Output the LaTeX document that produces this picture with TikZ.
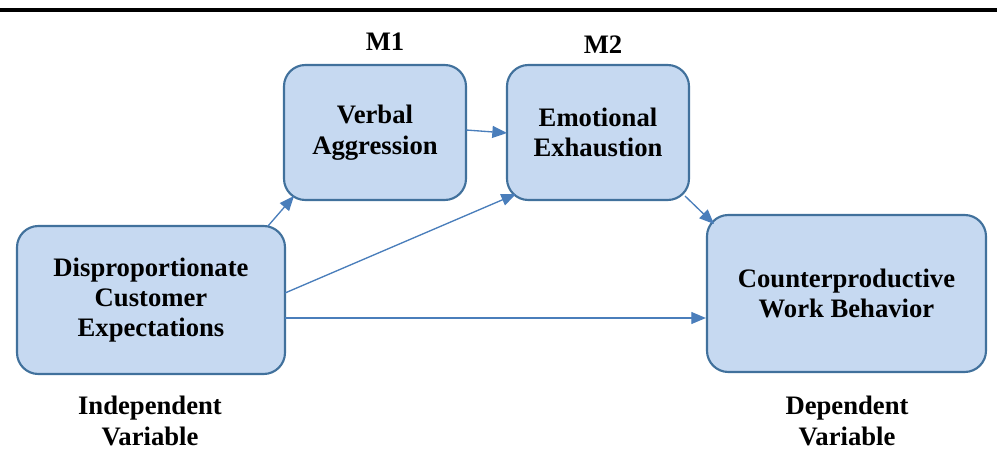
\documentclass[tikz,border=0pt]{standalone}
\usepackage{fontspec}
\setmainfont{Liberation Serif}
\usetikzlibrary{arrows.meta}

\definecolor{boxfill}{HTML}{C6D9F1}
\definecolor{boxline}{HTML}{41719C}
\definecolor{arrowline}{HTML}{4A7EBB}

\tikzset{
  varbox/.style={draw=boxline, fill=boxfill, line width=1.6pt, rounded corners=16pt,
    align=center, font=\fontsize{20}{22.8}\selectfont\bfseries, inner sep=0pt},
  lab/.style={align=center, font=\fontsize{20}{22.8}\selectfont\bfseries},
  link/.style={draw=arrowline, line width=1pt, -{Triangle[length=11pt,width=9pt]}}
}

\begin{document}
\begin{tikzpicture}[x=0.75pt,y=-0.75pt]

    \useasboundingbox (0,0) rectangle (997,468);

    % Linea superiore
    \draw[line width=2.4pt] (0,10) -- (997,10);

    % Variabili
    \node[varbox, minimum width=182*0.75pt, minimum height=135*0.75pt] (verbal) at (375,132.5) {Verbal\\Aggression};
    \node[varbox, minimum width=182*0.75pt, minimum height=135*0.75pt] (emot) at (598,132.5) {Emotional\\Exhaustion};
    \node[varbox, minimum width=268*0.75pt, minimum height=148*0.75pt] (dce) at (151,300) {Disproportionate\\Customer\\Expectations};
    \node[varbox, minimum width=279*0.75pt, minimum height=157*0.75pt] (cwb) at (846.5,293.5) {Counterproductive\\Work Behavior};

    % Etichette
    \node[lab] (m1) at (385,42) {M1};
    \node[lab] (m2) at (603,45) {M2};
    \node[lab] (indep) at (150,421) {Independent\\Variable};
    \node[lab] (dep) at (847,421) {Dependent\\Variable};

    % Frecce
    \coordinate (dceA) at (268,226);
    \coordinate (dceB) at (285,293);
    \coordinate (dceC) at (285,318);
    \coordinate (vaE) at (466,130);
    \draw[link] (dceA) -- (294,196);
    \draw[link] (vaE) -- (507,133);
    \draw[link] (dceB) -- (516,194);
    \draw[link] (685,196) -- (714,224);
    \draw[link] (dceC) -- (cwb.west |- dceC);

\end{tikzpicture}
\end{document}
